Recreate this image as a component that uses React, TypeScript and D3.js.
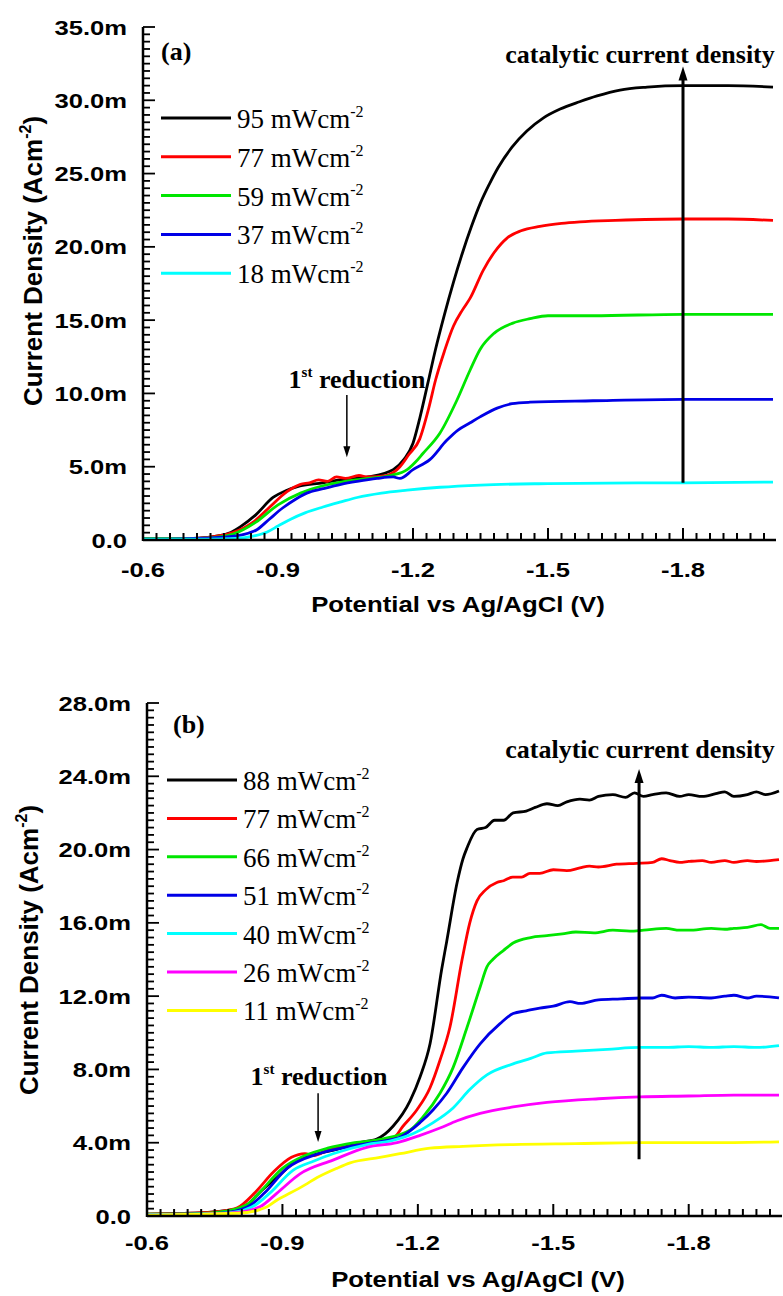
import React from 'react';
import * as d3 from 'd3';

type P = [number, number];

// ---------- tick labels ----------
const xTicks = [-0.6, -0.9, -1.2, -1.5, -1.8];
const topYTicks = [0, 5, 10, 15, 20, 25, 30, 35];
const botYTicks = [0, 4, 8, 12, 16, 20, 24, 28];

// ---------- panel (a) series: [potential V, current density mA cm^-2] ----------
const a95: P[] = [[-0.6,0.1],[-0.7,0.1],[-0.75,0.2],[-0.79,0.45],[-0.816,0.9],[-0.85,1.7],[-0.889,2.9],[-0.92,3.4],[-0.949,3.7],[-1.0,3.9],[-1.038,4.1],[-1.1,4.3],[-1.156,4.8],[-1.18,5.5],[-1.2,6.6],[-1.215,8.3],[-1.233,10.7],[-1.25,13.0],[-1.27,15.4],[-1.29,17.6],[-1.31,19.6],[-1.33,21.4],[-1.35,23.0],[-1.37,24.3],[-1.389,25.4],[-1.42,26.8],[-1.453,27.9],[-1.49,28.8],[-1.527,29.4],[-1.57,29.9],[-1.609,30.3],[-1.66,30.7],[-1.72,30.9],[-1.8,31.0],[-1.9,31.0],[-2.0,30.9]];
const a77: P[] = [[-0.6,0.1],[-0.7,0.1],[-0.75,0.2],[-0.8,0.5],[-0.844,1.2],[-0.88,2.2],[-0.92,3.3],[-0.95,3.8],[-0.97,3.9],[-0.99,4.1],[-1.01,4.0],[-1.03,4.3],[-1.05,4.2],[-1.08,4.4],[-1.1,4.3],[-1.14,4.4],[-1.171,5.0],[-1.19,5.8],[-1.215,6.9],[-1.235,9.0],[-1.25,10.9],[-1.27,12.9],[-1.29,14.6],[-1.31,15.7],[-1.327,16.5],[-1.356,18.4],[-1.38,19.6],[-1.409,20.6],[-1.44,21.1],[-1.482,21.4],[-1.53,21.6],[-1.571,21.7],[-1.65,21.8],[-1.8,21.9],[-1.9,21.9],[-2.0,21.8]];
const a59: P[] = [[-0.6,0.1],[-0.7,0.1],[-0.75,0.15],[-0.8,0.4],[-0.85,1.2],[-0.9,2.4],[-0.95,3.2],[-1.0,3.7],[-1.05,4.0],[-1.1,4.2],[-1.15,4.4],[-1.187,4.8],[-1.205,5.3],[-1.222,5.9],[-1.26,7.3],[-1.297,9.5],[-1.327,11.6],[-1.349,13.0],[-1.38,14.1],[-1.422,14.8],[-1.46,15.1],[-1.5,15.3],[-1.6,15.3],[-1.8,15.4],[-2.0,15.4]];
const a37: P[] = [[-0.6,0.05],[-0.7,0.1],[-0.78,0.2],[-0.82,0.35],[-0.853,0.7],[-0.88,1.4],[-0.911,2.2],[-0.94,2.8],[-0.964,3.2],[-1.0,3.5],[-1.04,3.8],[-1.076,4.0],[-1.12,4.2],[-1.156,4.3],[-1.171,4.2],[-1.2,4.8],[-1.238,5.5],[-1.275,6.8],[-1.3,7.5],[-1.327,8.0],[-1.349,8.4],[-1.387,9.0],[-1.42,9.3],[-1.46,9.4],[-1.6,9.5],[-1.8,9.6],[-2.0,9.6]];
const a18: P[] = [[-0.6,0.05],[-0.7,0.05],[-0.8,0.1],[-0.85,0.3],[-0.876,0.55],[-0.9,0.95],[-0.927,1.4],[-0.96,1.85],[-1.0,2.25],[-1.04,2.6],[-1.076,2.9],[-1.13,3.2],[-1.187,3.4],[-1.26,3.6],[-1.35,3.75],[-1.5,3.85],[-1.7,3.9],[-1.8,3.9],[-2.0,3.95]];

// ---------- panel (b) series ----------
const b88: P[] = [[-0.6,0.1],[-0.7,0.15],[-0.76,0.25],[-0.8,0.4],[-0.821,0.6],[-0.85,1.3],[-0.888,2.1],[-0.93,3.0],[-0.98,3.4],[-1.03,3.7],[-1.07,4.0],[-1.109,4.2],[-1.145,4.9],[-1.183,6.3],[-1.205,7.6],[-1.227,9.4],[-1.253,13.5],[-1.264,15.0],[-1.287,18.2],[-1.3,19.5],[-1.309,20.1],[-1.331,21.1],[-1.35,21.2],[-1.37,21.6],[-1.39,21.6],[-1.411,22.0],[-1.44,22.1],[-1.46,22.3],[-1.486,22.5],[-1.51,22.4],[-1.53,22.6],[-1.559,22.75],[-1.58,22.7],[-1.6,22.9],[-1.632,23.0],[-1.66,22.85],[-1.68,23.1],[-1.7,22.9],[-1.72,23.0],[-1.75,23.1],[-1.78,22.9],[-1.8,23.0],[-1.83,22.9],[-1.86,23.05],[-1.88,23.15],[-1.9,22.9],[-1.93,23.0],[-1.95,23.15],[-1.97,23.0],[-2.0,23.2]];
const b77: P[] = [[-0.6,0.1],[-0.7,0.15],[-0.76,0.25],[-0.8,0.45],[-0.84,1.3],[-0.88,2.4],[-0.92,3.2],[-0.95,3.4],[-0.97,3.3],[-1.0,3.6],[-1.05,3.8],[-1.1,4.1],[-1.145,4.25],[-1.167,4.9],[-1.198,5.8],[-1.227,7.0],[-1.249,8.5],[-1.271,10.3],[-1.298,14.0],[-1.315,16.0],[-1.331,17.2],[-1.35,17.8],[-1.375,18.2],[-1.39,18.3],[-1.41,18.5],[-1.43,18.5],[-1.448,18.7],[-1.47,18.7],[-1.5,18.9],[-1.53,18.85],[-1.559,19.0],[-1.58,19.1],[-1.6,19.05],[-1.64,19.2],[-1.685,19.25],[-1.72,19.3],[-1.74,19.5],[-1.758,19.4],[-1.78,19.3],[-1.8,19.35],[-1.83,19.4],[-1.85,19.3],[-1.88,19.4],[-1.9,19.3],[-1.93,19.4],[-1.95,19.35],[-1.98,19.4],[-2.0,19.45]];
const b66: P[] = [[-0.6,0.1],[-0.7,0.12],[-0.77,0.25],[-0.82,0.6],[-0.85,1.3],[-0.9,2.6],[-0.95,3.3],[-1.0,3.7],[-1.06,4.0],[-1.12,4.2],[-1.183,4.7],[-1.211,5.4],[-1.249,6.7],[-1.278,8.1],[-1.309,10.3],[-1.338,12.5],[-1.353,13.6],[-1.366,14.0],[-1.39,14.5],[-1.411,14.9],[-1.45,15.2],[-1.486,15.3],[-1.52,15.4],[-1.55,15.5],[-1.59,15.45],[-1.632,15.6],[-1.67,15.55],[-1.7,15.6],[-1.75,15.7],[-1.78,15.6],[-1.8,15.6],[-1.85,15.7],[-1.88,15.65],[-1.9,15.7],[-1.93,15.75],[-1.96,15.9],[-1.98,15.7],[-2.0,15.7]];
const b51: P[] = [[-0.6,0.08],[-0.7,0.1],[-0.78,0.2],[-0.83,0.6],[-0.86,1.25],[-0.91,2.6],[-0.98,3.4],[-1.05,3.8],[-1.1,4.0],[-1.16,4.3],[-1.205,5.1],[-1.234,5.8],[-1.264,6.7],[-1.3,8.1],[-1.338,9.4],[-1.382,10.5],[-1.411,11.05],[-1.44,11.2],[-1.47,11.35],[-1.5,11.45],[-1.537,11.7],[-1.56,11.6],[-1.6,11.8],[-1.65,11.85],[-1.692,11.9],[-1.72,11.9],[-1.74,12.05],[-1.77,11.9],[-1.8,11.95],[-1.85,11.9],[-1.88,12.0],[-1.9,12.05],[-1.93,11.9],[-1.95,12.0],[-2.0,11.9]];
const b40: P[] = [[-0.6,0.08],[-0.7,0.1],[-0.79,0.2],[-0.84,0.6],[-0.872,1.25],[-0.924,2.5],[-0.97,3.0],[-1.012,3.4],[-1.087,3.9],[-1.14,4.1],[-1.19,4.5],[-1.234,5.1],[-1.278,5.9],[-1.315,6.9],[-1.353,7.7],[-1.411,8.3],[-1.45,8.6],[-1.486,8.9],[-1.55,9.0],[-1.62,9.1],[-1.692,9.2],[-1.75,9.2],[-1.8,9.25],[-1.85,9.2],[-1.9,9.25],[-1.95,9.2],[-2.0,9.3]];
const b26: P[] = [[-0.6,0.05],[-0.7,0.08],[-0.8,0.2],[-0.85,0.5],[-0.888,1.25],[-0.939,2.3],[-1.012,3.05],[-1.087,3.75],[-1.154,4.0],[-1.205,4.4],[-1.249,4.8],[-1.287,5.2],[-1.338,5.6],[-1.411,5.95],[-1.486,6.2],[-1.6,6.4],[-1.692,6.5],[-1.8,6.55],[-1.9,6.6],[-2.0,6.6]];
const b11: P[] = [[-0.6,0.05],[-0.8,0.15],[-0.85,0.35],[-0.866,0.5],[-0.89,0.9],[-0.917,1.25],[-0.95,1.7],[-0.977,2.1],[-1.02,2.6],[-1.05,2.9],[-1.116,3.2],[-1.16,3.4],[-1.227,3.7],[-1.3,3.8],[-1.411,3.9],[-1.55,3.95],[-1.692,4.0],[-1.85,4.0],[-2.0,4.05]];

const topLabels = ['95', '77', '59', '37', '18'];
const botLabels = ['88', '77', '66', '51', '40', '26', '11'];
const topColors = ['#000000', '#ff0000', '#00e600', '#0000e6', '#00ffff'];
const botColors = ['#000000', '#ff0000', '#00e600', '#0000e6', '#00ffff', '#ff00ff', '#ffff00'];

const SANS = '"Liberation Sans", Arial, sans-serif';
const SERIF = '"Liberation Serif", "Times New Roman", serif';

type PanelProps = {
  x0: number; x1: number; yTop: number; yBot: number; yMax: number;
  yTicks: number[]; series: P[][]; colors: string[]; labels: string[];
  tag: string; legX: number; legY: number; legStep: number;
  catArrowX: number; catFrom: number; catTo: number; catTextX: number; catTextY: number;
  redArrowX: number; redFrom: number; redTo: number; redTextX: number; redTextY: number;
  yLabelRight: number; xTickBase: number; xTitleX: number; xTitleY: number;
  yTitleX: number; yTitleY: number; tagX: number; tagY: number;
};

function Panel(p: PanelProps) {
  const x = d3.scaleLinear().domain([-0.6, -2.0]).range([p.x0, p.x1]);
  const y = d3.scaleLinear().domain([0, p.yMax]).range([p.yBot, p.yTop]);
  const line = d3.line<P>().x(d => x(d[0])).y(d => y(d[1])).curve(d3.curveMonotoneX);
  const xMinor = d3.range(0, 47).map(i => -0.6 - 0.03 * i);
  const yMinor = d3.range(0, 71).map(i => (p.yMax / 70) * i);
  const axisEnd = p.x1 + 3;
  return (
    <g>
      {p.series.map((s, i) => (
        <path key={i} d={line(s) || ''} fill="none" stroke={p.colors[i]} strokeWidth={2.8} strokeLinejoin="round" />
      ))}
      <line x1={p.x0} x2={axisEnd} y1={p.yBot} y2={p.yBot} stroke="#000" strokeWidth={2.5} />
      <line x1={p.x0} x2={p.x0} y1={p.yBot + 1} y2={p.yTop} stroke="#000" strokeWidth={2.5} />
      {xMinor.map((v, i) => (
        <line key={'xm' + i} x1={x(v)} x2={x(v)} y1={p.yBot} y2={p.yBot - (i % 10 === 0 ? 12 : 7)} stroke="#000" strokeWidth={2} />
      ))}
      {yMinor.map((v, i) => (
        <line key={'ym' + i} x1={p.x0} x2={p.x0 + (i % 10 === 0 ? 12 : 7)} y1={y(v)} y2={y(v)} stroke="#000" strokeWidth={1.8} />
      ))}
      {p.yTicks.map(v => (
        <text key={'yl' + v} transform={`translate(${p.yLabelRight},${y(v) + 7.5}) scale(1.28,1)`} textAnchor="end"
          fontFamily={SANS} fontWeight="bold" fontSize={20}>{v === 0 ? '0.0' : v.toFixed(1) + 'm'}</text>
      ))}
      {xTicks.map(v => (
        <text key={'xl' + v} transform={`translate(${x(v)},${p.xTickBase}) scale(1.28,1)`} textAnchor="middle"
          fontFamily={SANS} fontWeight="bold" fontSize={20}>{v.toFixed(1)}</text>
      ))}
      <text transform={`translate(${p.xTitleX},${p.xTitleY}) scale(1.12,1)`} textAnchor="middle"
        fontFamily={SANS} fontWeight="bold" fontSize={23}>Potential vs Ag/AgCl (V)</text>
      <text transform={`translate(${p.yTitleX},${p.yTitleY}) rotate(-90)`} textAnchor="middle"
        fontFamily={SANS} fontWeight="bold" fontSize={26}>
        Current Density (Acm<tspan fontSize={16} dy={-11}>-2</tspan><tspan dy={11}>)</tspan>
      </text>
      <text x={p.tagX} y={p.tagY} fontFamily={SERIF} fontWeight="bold" fontSize={26}>{p.tag}</text>
      {p.labels.map((l, i) => {
        const ly = p.legY + i * p.legStep;
        return (
          <g key={'lg' + i}>
            <line x1={p.legX} x2={p.legX + 70} y1={ly} y2={ly} stroke={p.colors[i]} strokeWidth={3} />
            <text x={p.legX + 76} y={ly + 10} fontFamily={SERIF} fontSize={27}>
              {l} mWcm<tspan fontSize={16} dy={-11}>-2</tspan>
            </text>
          </g>
        );
      })}
      <line x1={x(p.catArrowX)} x2={x(p.catArrowX)} y1={y(p.catFrom)} y2={y(p.catTo) + 12} stroke="#000" strokeWidth={3} />
      <path d={`M${x(p.catArrowX)},${y(p.catTo)} l-4.5,14 l9,0 z`} fill="#000" />
      <text x={p.catTextX} y={p.catTextY} textAnchor="middle" fontFamily={SERIF} fontWeight="bold" fontSize={26}>catalytic current density</text>
      <line x1={x(p.redArrowX)} x2={x(p.redArrowX)} y1={y(p.redFrom)} y2={y(p.redTo) - 8} stroke="#000" strokeWidth={1.5} />
      <path d={`M${x(p.redArrowX)},${y(p.redTo)} l-3.5,-11 l7,0 z`} fill="#000" />
      <text x={p.redTextX} y={p.redTextY} textAnchor="middle" fontFamily={SERIF} fontWeight="bold" fontSize={26}>
        1<tspan fontSize={15} dy={-11}>st</tspan><tspan dy={11}> reduction</tspan>
      </text>
    </g>
  );
}

export default function App() {
  return (
    <svg width={783} height={1296} viewBox="0 0 783 1296"
      style={{ position: 'absolute', left: 0, top: 0, background: '#fff' }}>
      <rect x={0} y={0} width={783} height={1296} fill="#fff" />
      <Panel
        x0={143} x1={773} yTop={27} yBot={540} yMax={35} yTicks={topYTicks}
        series={[a95, a77, a59, a37, a18]} colors={topColors} labels={topLabels}
        tag="(a)" tagX={161} tagY={60}
        legX={161} legY={118} legStep={38.8}
        catArrowX={-1.8} catFrom={3.9} catTo={32.3} catTextX={640} catTextY={63}
        redArrowX={-1.053} redFrom={9.9} redTo={5.65} redTextX={357} redTextY={388}
        yLabelRight={127} xTickBase={577} xTitleX={458} xTitleY={612}
        yTitleX={42} yTitleY={261}
      />
      <Panel
        x0={147} x1={779} yTop={703} yBot={1216} yMax={28} yTicks={botYTicks}
        series={[b88, b77, b66, b51, b40, b26, b11]} colors={botColors} labels={botLabels}
        tag="(b)" tagX={173} tagY={733}
        legX={167} legY={780} legStep={38.4}
        catArrowX={-1.69} catFrom={3.1} catTo={24.4} catTextX={640} catTextY={758}
        redArrowX={-0.979} redFrom={6.7} redTo={4.04} redTextX={319} redTextY={1085}
        yLabelRight={131} xTickBase={1250} xTitleX={478} xTitleY={1287}
        yTitleX={38} yTitleY={950}
      />
    </svg>
  );
}
